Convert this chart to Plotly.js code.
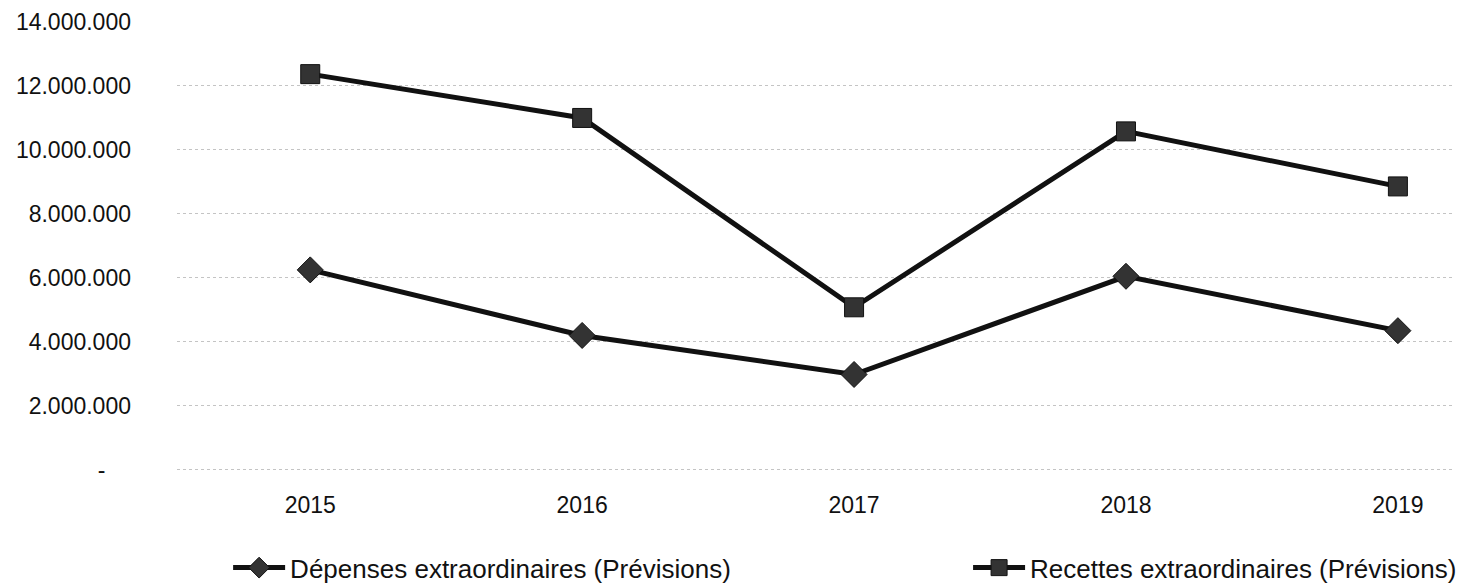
<!DOCTYPE html>
<html>
<head>
<meta charset="utf-8">
<script src="https://cdn.plot.ly/plotly-3.0.1.min.js"></script>
<style>html,body{margin:0;padding:0;background:#fff;}#chart{width:1457px;height:585px;}</style>
</head>
<body>
<div id="chart"></div>
<script>
const years = ["2015", "2016", "2017", "2018", "2019"];
const depenses = [6250000, 4200000, 2980000, 6050000, 4350000];
const recettes = [12370000, 11000000, 5080000, 10580000, 8860000];
const yTickVals = [0, 2000000, 4000000, 6000000, 8000000, 10000000, 12000000, 14000000];
const yTickText = ["-\u00a0\u00a0\u00a0\u00a0", "2.000.000", "4.000.000", "6.000.000", "8.000.000", "10.000.000", "12.000.000", "14.000.000"];
const nameDep = "Dépenses extraordinaires (Prévisions)";
const nameRec = "Recettes extraordinaires (Prévisions)";

const font = {family: "Liberation Sans, Arial, sans-serif", size: 23, color: "#111"};
const legendFont = {family: "Liberation Sans, Arial, sans-serif", size: 26, color: "#111"};

const traces = [
  {x: years, y: depenses, name: nameDep, type: "scatter", mode: "lines+markers",
   line: {color: "#111", width: 5}, marker: {symbol: "diamond", size: 20, color: "#333", line: {color: "#111", width: 1}},
   legend: "legend"},
  {x: years, y: recettes, name: nameRec, type: "scatter", mode: "lines+markers",
   line: {color: "#111", width: 5}, marker: {symbol: "square", size: 19, color: "#333", line: {color: "#111", width: 1}},
   legend: "legend2"}
];

const layout = {
  width: 1457, height: 585,
  margin: {l: 177, r: 2, t: 22, b: 112, autoexpand: false},
  paper_bgcolor: "#fff", plot_bgcolor: "#fff",
  font: font,
  showlegend: true,
  xaxis: {type: "category", range: [-0.49, 4.21], showgrid: false, zeroline: false, showline: false,
          ticks: "", ticklabelstandoff: 16, tickfont: font, automargin: false},
  yaxis: {range: [-100000, 14000000], tickvals: yTickVals, ticktext: yTickText, showgrid: true,
          gridcolor: "#c4c4c4", griddash: "dot", gridwidth: 1, zeroline: false, showline: false,
          ticks: "", ticklabelstandoff: 45, tickfont: font, automargin: false},
  legend: {orientation: "h", x: 0.04, xanchor: "left", y: -0.21, yanchor: "middle", font: legendFont,
           itemwidth: 52, bgcolor: "rgba(0,0,0,0)"},
  legend2: {orientation: "h", x: 0.619, xanchor: "left", y: -0.21, yanchor: "middle", font: legendFont,
            itemwidth: 52, bgcolor: "rgba(0,0,0,0)"}
};

Plotly.newPlot("chart", traces, layout, {displayModeBar: false, staticPlot: true});
</script>
</body>
</html>
